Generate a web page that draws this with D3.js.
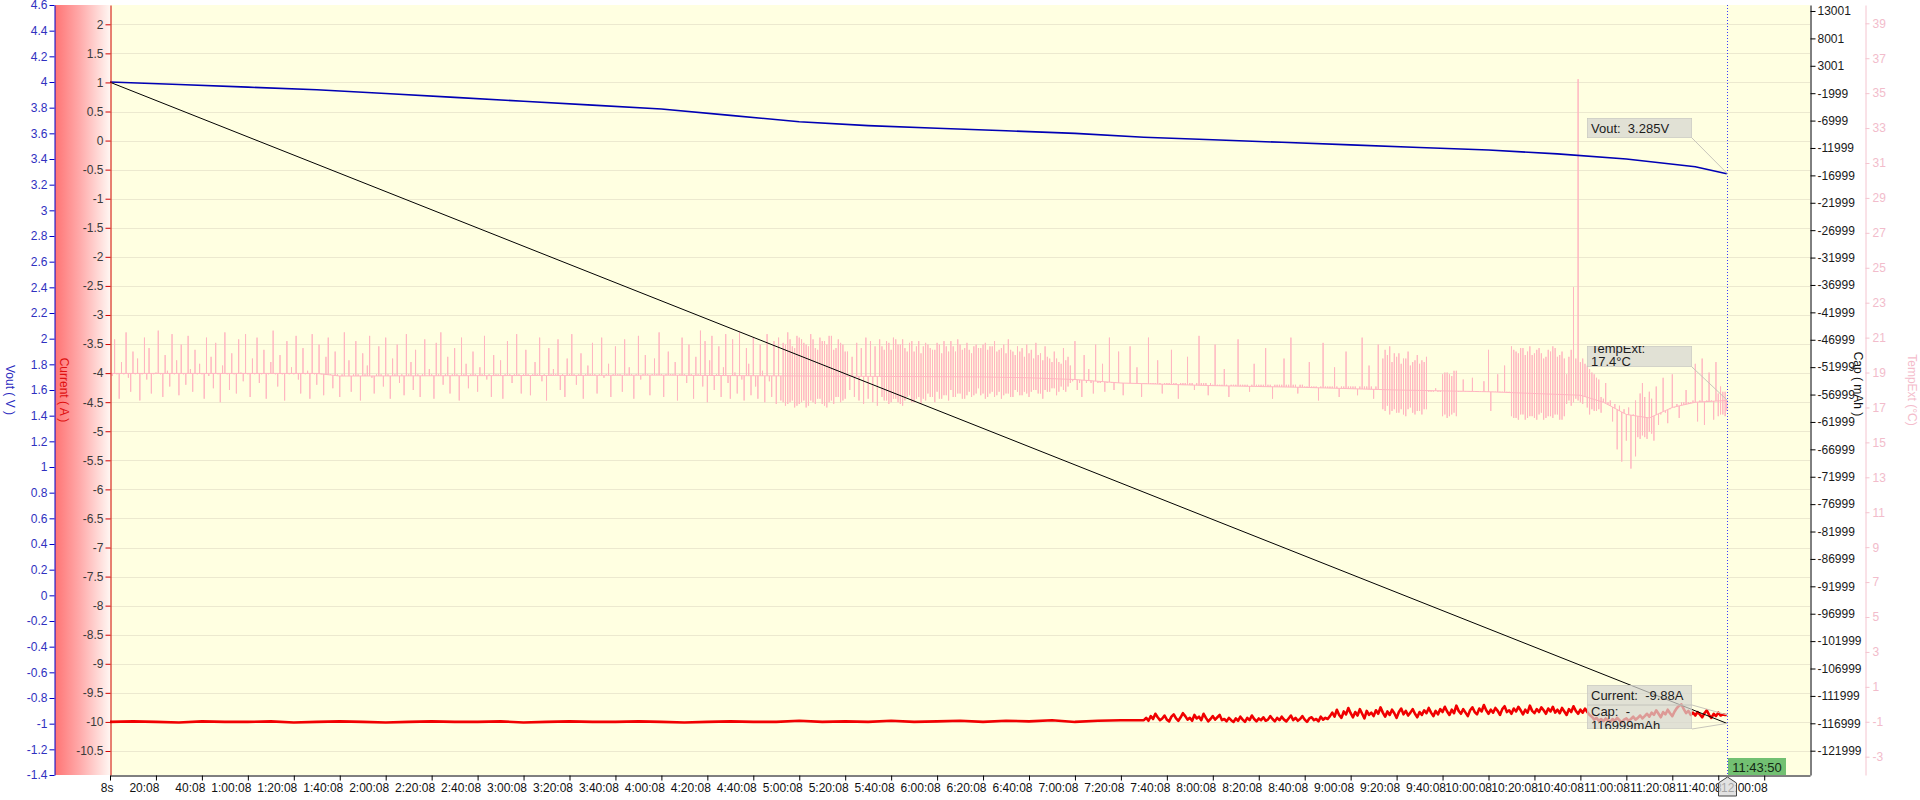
<!DOCTYPE html>
<html><head><meta charset="utf-8">
<script src="https://cdn.jsdelivr.net/npm/d3@7"></script>
<style>
body{margin:0;background:#fff;}
svg{display:block;font-family:Arial,"Liberation Sans",sans-serif;}
</style></head><body>
<div id="chart"></div>
<script>
// time of the last sample, minutes after the 8s start
var lastMin = 703.7;
var cursorLabel = "11:43:50";

// tick values
var voutTicks = [4.6,4.4,4.2,4,3.8,3.6,3.4,3.2,3,2.8,2.6,2.4,2.2,2,1.8,1.6,1.4,1.2,1,0.8,0.6,0.4,0.2,0,-0.2,-0.4,-0.6,-0.8,-1,-1.2,-1.4];
var currentTicks = [2,1.5,1,0.5,0,-0.5,-1,-1.5,-2,-2.5,-3,-3.5,-4,-4.5,-5,-5.5,-6,-6.5,-7,-7.5,-8,-8.5,-9,-9.5,-10,-10.5];
var capTicks = [13001,8001,3001,-1999,-6999,-11999,-16999,-21999,-26999,-31999,-36999,-41999,-46999,-51999,-56999,-61999,-66999,-71999,-76999,-81999,-86999,-91999,-96999,-101999,-106999,-111999,-116999,-121999];
var tempTicks = [39,37,35,33,31,29,27,25,23,21,19,17,15,13,11,9,7,5,3,1,-1,-3];
var timeTicks = ["8s","20:08","40:08","1:00:08","1:20:08","1:40:08","2:00:08","2:20:08","2:40:08","3:00:08","3:20:08","3:40:08","4:00:08","4:20:08","4:40:08","5:00:08","5:20:08","5:40:08","6:00:08","6:20:08","6:40:08","7:00:08","7:20:08","7:40:08","8:00:08","8:20:08","8:40:08","9:00:08","9:20:08","9:40:08","10:00:08","10:20:08","10:40:08","11:00:08","11:20:08","11:40:08","12:00:08"];

// Vout (V)
var voutMin = [0,30,60,90,120,150,180,210,240,270,300,330,360,390,420,450,480,510,540,570,600,630,660,690,703.7];
var voutVal = [4.0,3.98,3.96,3.94,3.91,3.88,3.85,3.82,3.79,3.74,3.69,3.66,3.64,3.62,3.60,3.57,3.55,3.53,3.51,3.49,3.47,3.44,3.40,3.34,3.285];

// Cap (mAh)
var capMin = [0,lastMin];
var capVal = [1,-116999];

// Current (A): every 10 min up to 440, then every minute from 450
var currentEarly = [-10.0,-9.99,-10.0,-10.01,-9.99,-10.0,-10.0,-9.99,-10.01,-10.0,-9.99,-10.0,-10.01,-10.0,-9.99,-10.0,-10.0,-9.99,-10.01,-10.0,-9.99,-10.0,-10.0,-9.99,-10.0,-10.01,-10.0,-9.99,-10.0,-10.0,-9.98,-10.0,-9.99,-10.0,-9.98,-10.0,-9.99,-9.98,-10.0,-9.98,-9.99,-9.97,-10.0,-9.98,-9.97];
var currentLate = [
  -9.97,-9.93,-9.98,-9.90,-9.95,-9.86,-9.92,-9.97,-9.94,-9.89,-9.96,-9.99,-9.91,-9.87,-9.94,-9.98,-9.92,-9.85,-9.90,-9.96,
  -9.93,-9.98,-9.88,-9.94,-9.91,-9.97,-9.86,-9.93,-9.99,-9.95,-9.90,-9.96,-9.92,-9.88,-9.97,-9.95,-9.99,-9.93,-9.97,-10.0,
  -9.94,-9.98,-9.91,-9.96,-10.0,-9.93,-9.97,-9.89,-9.95,-9.99,-9.94,-9.97,-9.92,-9.98,-9.96,-9.90,-9.95,-9.99,-9.93,-9.97,
  -9.91,-9.96,-9.99,-9.94,-9.89,-9.97,-9.93,-9.98,-9.95,-9.90,-9.96,-10.0,-9.94,-9.92,-9.97,-9.95,-9.99,-9.91,-9.96,-9.93,
  -9.95,-9.90,-9.84,-9.91,-9.79,-9.88,-9.93,-9.82,-9.87,-9.76,-9.85,-9.92,-9.83,-9.89,-9.78,-9.86,-9.94,-9.81,-9.88,-9.84,
  -9.90,-9.80,-9.86,-9.75,-9.84,-9.91,-9.82,-9.88,-9.79,-9.85,-9.93,-9.83,-9.77,-9.87,-9.81,-9.89,-9.84,-9.78,-9.86,-9.92,
  -9.83,-9.88,-9.80,-9.85,-9.76,-9.84,-9.90,-9.81,-9.87,-9.78,-9.83,-9.74,-9.82,-9.88,-9.79,-9.85,-9.72,-9.81,-9.86,-9.78,
  -9.84,-9.90,-9.80,-9.75,-9.83,-9.87,-9.77,-9.82,-9.71,-9.80,-9.86,-9.79,-9.84,-9.76,-9.81,-9.88,-9.78,-9.73,-9.83,-9.80,
  -9.86,-9.77,-9.82,-9.74,-9.80,-9.87,-9.79,-9.84,-9.72,-9.81,-9.85,-9.78,-9.83,-9.75,-9.80,-9.86,-9.77,-9.82,-9.74,-9.84,
  -9.79,-9.85,-9.76,-9.82,-9.88,-9.78,-9.83,-9.73,-9.81,-9.86,-9.79,-9.84,-9.77,-9.83,-9.88,-9.91,-9.96,-9.93,-9.98,-9.95,
  -9.99,-9.94,-9.97,-10.0,-9.95,-9.98,-9.93,-9.97,-10.01,-9.96,-9.94,-9.98,-9.95,-9.91,-9.96,-9.93,-9.89,-9.94,-9.90,-9.86,
  -9.91,-9.84,-9.88,-9.80,-9.86,-9.92,-9.83,-9.87,-9.79,-9.85,-9.90,-9.82,-9.76,-9.72,-9.70,-9.78,-9.85,-9.81,-9.88,-9.84,
  -9.89,-9.83,-9.87,-9.92,-9.85,-9.80,-9.88,-9.93,-9.86,-9.90,-9.84,-9.89,-9.87,-9.88];
var currentEnd = -9.88;

// TempExt (°C): slow baseline
var tempBaseMin = [0,90,100,240,300,380,400,420,440,480,520,560,600,640,650,660,670,680,690,703.7];
var tempBaseVal = [18.95,18.95,18.8,18.85,18.8,18.75,18.7,18.6,18.4,18.25,18.15,18.0,17.9,17.7,17.3,16.6,16.4,17.0,17.3,17.4];
// TempExt spike tip in each minute (0..704)
var tempSpike = [
  18.9,18.8,20.9,18.9,17.5,19.6,18.9,21.3,18.7,17.9,20.2,18.9,19.8,17.4,18.9,21.0,18.6,20.4,17.8,18.9,
  19.0,21.4,18.9,17.6,20.0,19.1,18.2,21.2,18.9,19.7,17.7,20.6,18.9,18.3,21.1,19.2,17.9,20.3,18.9,19.5,
  18.9,17.5,21.0,18.8,19.9,18.1,20.7,18.9,17.3,19.4,21.3,18.9,18.0,20.1,18.9,17.8,20.9,19.0,18.5,21.2,
  18.9,17.6,19.8,18.9,21.0,18.4,18.9,20.3,17.5,18.9,19.6,21.4,18.9,18.2,20.0,18.9,17.4,20.8,18.9,19.3,
  18.9,21.1,18.6,17.8,20.4,18.9,19.1,17.5,21.2,18.9,18.3,20.6,18.9,17.7,19.9,21.0,18.9,18.1,20.2,18.9,
  17.6,18.9,21.3,18.8,19.7,17.9,18.9,20.8,18.9,17.4,20.1,18.9,19.4,21.1,18.7,17.8,18.9,20.5,18.9,18.2,
  21.0,18.9,17.5,19.8,18.9,20.6,18.4,18.9,17.7,21.2,18.9,19.6,18.0,20.3,18.9,17.6,18.9,20.9,18.8,19.2,
  18.9,17.5,20.7,18.9,21.3,18.3,18.9,19.9,17.8,18.9,20.4,18.9,17.4,21.0,18.9,19.5,18.1,18.9,20.2,18.9,
  17.9,19.3,18.9,21.1,18.6,18.9,17.6,20.0,18.9,18.9,19.7,17.5,18.9,20.8,18.9,18.4,18.9,21.2,18.9,17.8,
  18.9,20.3,18.9,17.7,18.9,19.6,18.9,21.0,18.5,18.9,17.4,20.4,18.9,19.2,18.9,20.9,18.0,18.9,17.6,19.8,
  18.9,21.2,18.9,18.3,18.9,20.1,17.5,18.9,19.4,18.9,20.7,18.9,17.8,18.9,21.0,18.7,18.9,19.5,17.6,18.9,
  20.5,18.9,18.9,17.9,20.9,18.9,19.3,18.9,17.5,18.9,21.1,18.6,18.9,20.0,18.9,17.7,18.9,19.8,18.9,21.3,
  18.9,17.6,18.9,20.2,18.9,18.9,19.6,17.4,18.9,21.0,18.9,18.4,20.6,18.9,17.5,19.9,18.9,21.4,18.2,20.8,
  17.3,19.7,21.1,18.0,18.9,20.5,17.6,19.3,21.2,18.4,17.5,20.9,19.0,17.8,21.3,18.6,17.4,20.4,19.5,17.7,
  21.0,18.2,17.5,20.6,19.1,17.3,21.2,18.5,17.6,20.8,17.2,21.0,17.4,20.7,17.1,21.3,17.3,20.5,17.0,21.1,
  17.2,20.9,17.4,20.6,17.1,21.2,17.3,20.4,17.5,21.0,17.2,20.8,17.0,21.1,17.4,20.3,17.6,20.9,17.3,20.6,
  17.5,20.2,18.0,19.9,17.6,20.7,17.4,20.4,17.2,21.0,17.5,20.8,17.3,20.5,17.1,20.9,17.6,20.3,17.4,20.7,
  17.3,21.0,17.5,20.6,17.2,20.9,17.4,20.2,17.7,20.8,17.3,20.5,17.6,20.1,17.5,20.7,17.8,20.4,17.6,20.3,
  17.9,20.6,17.5,20.8,17.7,20.2,18.0,20.5,17.6,20.9,17.8,20.3,17.5,20.7,17.9,20.1,17.7,20.6,18.1,20.4,
  17.8,20.7,17.6,20.5,17.9,20.8,17.7,20.3,17.5,20.6,17.8,20.9,17.6,20.2,18.0,20.5,17.7,20.4,17.9,20.6,
  17.6,20.3,18.0,20.7,17.8,20.1,17.5,20.5,17.9,19.8,18.1,20.2,17.7,19.6,18.2,20.4,17.9,19.9,18.4,18.5,
  20.8,18.0,18.4,17.6,20.0,18.4,19.2,18.4,17.8,20.6,18.4,18.4,19.5,17.9,18.4,21.0,18.4,18.0,18.4,20.2,
  18.4,17.7,18.4,18.4,20.5,18.4,18.4,19.3,18.4,17.6,18.4,18.4,21.0,18.4,18.4,18.4,19.7,18.4,17.8,18.4,
  18.4,18.4,20.3,18.4,18.4,17.5,18.4,18.4,18.4,19.9,18.4,18.4,18.0,18.4,21.1,18.4,18.4,18.4,17.7,18.4,
  18.3,20.6,18.3,18.3,18.3,19.2,18.3,17.6,18.3,18.3,18.3,20.9,18.3,18.3,18.3,18.3,17.9,18.3,19.5,18.3,
  18.3,18.3,18.3,20.4,18.3,18.3,17.5,18.3,18.3,18.3,18.3,19.8,18.3,18.3,21.0,18.3,18.3,17.8,18.3,18.3,
  18.2,18.2,19.6,18.2,18.2,18.2,17.4,18.2,20.7,18.2,18.2,18.2,18.2,19.3,18.2,17.6,18.2,18.2,20.2,18.2,
  18.2,18.2,18.2,17.7,18.2,21.0,18.2,18.2,19.4,18.2,17.5,18.2,20.6,18.0,16.9,20.3,17.1,20.5,16.8,20.1,
  16.7,20.1,16.9,19.8,16.5,20.2,17.0,19.6,16.6,20.0,16.8,19.7,16.9,19.9,17.9,17.9,17.9,18.1,17.9,17.9,
  16.5,19.0,16.4,18.9,16.6,19.1,16.5,17.9,17.9,18.6,17.9,17.9,17.9,18.7,17.9,17.9,17.9,17.9,18.5,17.9,
  20.3,16.8,17.9,17.9,18.9,17.9,17.9,19.4,17.9,17.9,20.5,16.4,20.2,16.3,20.4,16.6,20.0,16.4,20.5,16.5,
  20.1,16.3,20.4,16.7,19.8,16.4,20.3,16.5,20.5,16.6,19.9,16.3,20.2,16.5,18.9,17.4,20.3,23.9,17.5,35.8,
  17.3,19.8,17.6,19.4,16.6,19.0,16.8,18.7,16.9,17.6,17.5,18.4,17.3,17.4,16.2,17.2,14.6,17.1,13.9,16.9,
  15.1,17.0,13.5,16.6,14.2,16.4,15.2,18.4,15.3,16.4,17.9,15.5,16.5,18.2,16.0,16.6,18.7,16.7,16.1,16.9,
  18.9,17.0,17.2,16.4,17.3,17.3,18.0,17.3,17.3,17.4,19.5,16.2,17.4,19.8,16.0,17.4,19.0,17.4,16.3,19.6,
  16.5,18.2,16.6,17.9,17.4];
// TempExt dense stretches: first minute, and the opposite extreme reached in each minute
var denseStart = [293,336,378,554,580,610,634,664,700];
var denseVals = [
  [17.3,20.6,17.2,20.9,17.4,20.4,17.1,21.0,17.3,20.7,17.0,20.5,17.4,20.9,17.2,20.3,17.5,20.8,17.1,20.6,17.3,21.1,17.2,20.4,17.6,20.7,17.4,20.2],
  [20.5,17.4,20.8,17.2,20.3,17.5,20.9,17.3,20.6,17.1,20.4,17.6,20.7,17.3,20.2,17.5,20.8,17.2,20.5,17.4,
   20.6,17.6,20.3,17.3,20.7,17.5,20.1,17.7,20.5,17.4,20.8,17.6,20.2,17.8,20.6,17.5,20.4,17.7,20.3,17.6,20.5,17.8],
  [20.4,17.7,20.6,17.5,20.3,17.8,20.5,17.6,20.2,17.9,20.4,17.7,20.1,17.8,20.3,17.6,20.0,17.9,20.2,17.7,
   19.9,17.8,20.1,17.9,19.8,18.0,20.0,17.8,19.7,18.0,19.9,17.9,19.6,18.1,19.8,17.9,19.5,18.0,19.7,18.2,19.4],
  [19.8,16.8,20.0,16.6,19.6,16.9,19.9,16.7,19.5,16.6,19.8,16.9,19.4,16.7,19.7,16.8,19.5,16.6,19.6,16.9],
  [18.9,16.6,19.0,16.5,18.8,16.7,19.1],
  [16.5,20.3,16.4,20.1,16.6,20.4,16.3,20.2,16.5,20.0,16.4,20.3,16.6,20.1,16.3,19.9,16.5,20.2,16.4,20.4,16.6,20.0,16.3,19.8],
  [17.2,19.9,17.1,17.3,19.8,17.4,19.6,17.2,19.5,17.0,19.2,16.9,18.9,16.8,18.6,16.7],
  [17.4,15.3,17.8,15.4,17.6,15.2,15.6,17.5,15.1],
  [17.8,16.6,17.9,16.5,16.8]];

var W = 1920, H = 800;
var pL = 110, pR = 1810, pT = 5, pB = 775;

function minToSec(m){ return 8 + m*60; }

var xScale = d3.scaleLinear().domain([8, 44404]).range([pL, pR]);
var vScale = d3.scaleLinear().domain([-1.4, 4.6]).range([pB, pT]);
var iScale = d3.scaleLinear().domain([-10.913, 2.332]).range([pB, pT]);
var capScale = d3.scaleLinear().domain([-126434, 14096]).range([pB, pT]);
var tScale = d3.scaleLinear().domain([-4.048, 40.048]).range([pB, pT]);
var tempBase = d3.scaleLinear().domain(tempBaseMin).range(tempBaseVal);

var svg = d3.select("#chart").append("svg")
  .attr("width", W).attr("height", H);

var defs = svg.append("defs");
var grad = defs.append("linearGradient").attr("id", "redband")
  .attr("x1", "0%").attr("x2", "100%").attr("y1", "0%").attr("y2", "0%");
grad.append("stop").attr("offset", "0%").attr("stop-color", "#ff7474");
grad.append("stop").attr("offset", "45%").attr("stop-color", "#ffaaaa");
grad.append("stop").attr("offset", "100%").attr("stop-color", "#fff6f2");

defs.append("clipPath").attr("id", "plotclip").append("rect")
  .attr("x", pL).attr("y", pT).attr("width", pR-pL).attr("height", pB-pT);

// red band behind the current axis
svg.append("rect")
  .attr("x", 55).attr("y", pT).attr("width", pL-55).attr("height", pB-pT)
  .attr("fill", "url(#redband)");

// plot background
svg.append("rect")
  .attr("x", pL).attr("y", pT).attr("width", pR-pL).attr("height", pB-pT)
  .attr("fill", "#ffffe1");

// grid lines on the current ticks
svg.append("g").selectAll("line").data(currentTicks).enter().append("line")
  .attr("x1", pL).attr("x2", pR)
  .attr("y1", function(d){ return Math.round(iScale(d))+0.5; })
  .attr("y2", function(d){ return Math.round(iScale(d))+0.5; })
  .attr("stroke", "#ece9cf").attr("stroke-width", 1);

var g = svg.append("g").attr("clip-path", "url(#plotclip)");
var tx = function(m){ return xScale(minToSec(m)); };

// TempExt: baseline with the excursions of each minute
var second = {};
denseStart.forEach(function(s, k){
  denseVals[k].forEach(function(v, j){ second[s + j] = v; });
});
var tempPts = [];
tempSpike.forEach(function(v, i){
  var m = Math.min(i, lastMin), b = tempBase(m);
  tempPts.push([m, b], [m, v]);
  if (second[i] !== undefined) tempPts.push([m, second[i]]);
  tempPts.push([m, b]);
});
g.append("path").datum(tempPts)
  .attr("d", d3.line().x(function(d){ return tx(d[0]); }).y(function(d){ return tScale(d[1]); }))
  .attr("fill", "none").attr("stroke", "#ffb6c1").attr("stroke-width", 1);

// Current
var curPts = currentEarly.map(function(v, i){ return [i*10, v]; })
  .concat(currentLate.map(function(v, i){ return [450 + i, v]; }))
  .concat([[lastMin, currentEnd]]);
g.append("path").datum(curPts)
  .attr("d", d3.line().x(function(d){ return tx(d[0]); }).y(function(d){ return iScale(d[1]); }))
  .attr("fill", "none").attr("stroke", "#f00000").attr("stroke-width", 2.6)
  .attr("stroke-linejoin", "round");

// Vout
var voutPts = voutMin.map(function(m, i){ return [m, voutVal[i]]; });
g.append("path").datum(voutPts)
  .attr("d", d3.line().x(function(d){ return tx(d[0]); }).y(function(d){ return vScale(d[1]); }))
  .attr("fill", "none").attr("stroke", "#0000b4").attr("stroke-width", 1.6);

// Cap
var capPts = capMin.map(function(m, i){ return [m, capVal[i]]; });
g.append("path").datum(capPts)
  .attr("d", d3.line().x(function(d){ return tx(d[0]); }).y(function(d){ return capScale(d[1]); }))
  .attr("fill", "none").attr("stroke", "#000").attr("stroke-width", 1);

// axes
function numFmt(d){ return String(+d.toFixed(2)); }

function styleAxis(sel, lineColor, textColor){
  sel.selectAll("path.domain").attr("stroke", lineColor);
  sel.selectAll(".tick line").attr("stroke", lineColor);
  sel.selectAll(".tick text").attr("fill", textColor).style("font-size", "12px")
    .style("font-family", "Arial, 'Liberation Sans', sans-serif");
}

var vAxis = svg.append("g").attr("transform", "translate(54.5,0)")
  .call(d3.axisLeft(vScale).tickValues(voutTicks).tickFormat(numFmt).tickSize(5).tickSizeOuter(0).tickPadding(2));
styleAxis(vAxis, "#0000c8", "#3030c0");

var iAxis = svg.append("g").attr("transform", "translate(110.5,0)")
  .call(d3.axisLeft(iScale).tickValues(currentTicks).tickFormat(numFmt).tickSize(5).tickSizeOuter(0).tickPadding(2));
styleAxis(iAxis, "#d00000", "#3a3a3a");

var capAxis = svg.append("g").attr("transform", "translate(1810.5,0)")
  .call(d3.axisRight(capScale).tickValues(capTicks).tickFormat(function(d){ return String(d); }).tickSize(5).tickSizeOuter(0).tickPadding(2));
styleAxis(capAxis, "#000", "#1a1a1a");

var tAxis = svg.append("g").attr("transform", "translate(1865.5,0)")
  .call(d3.axisRight(tScale).tickValues(tempTicks).tickFormat(function(d){ return String(d); }).tickSize(4).tickSizeOuter(0).tickPadding(3));
styleAxis(tAxis, "#f4c4cf", "#f2bccb");

// time axis
var timeVals = timeTicks.map(function(d, i){ return 8 + i*1200; });
var xAxis = svg.append("g").attr("transform", "translate(0," + (pB+0.5) + ")")
  .call(d3.axisBottom(xScale).tickValues(timeVals)
    .tickFormat(function(d, i){ return timeTicks[i]; }).tickSize(5).tickSizeOuter(0).tickPadding(3));
styleAxis(xAxis, "#000", "#111");
xAxis.selectAll(".tick text").attr("text-anchor", "end").attr("x", 3);

// axis titles
function vTitle(x, y, txt, color){
  svg.append("text").attr("transform", "translate(" + x + "," + y + ") rotate(90)")
    .attr("text-anchor", "middle").attr("dominant-baseline", "central")
    .attr("fill", color).style("font-size", "12px").text(txt);
}
vTitle(10, 390, "Vout ( V )", "#2a2ac0");
vTitle(64, 390, "Current ( A )", "#e01010");
vTitle(1858, 384, "Cap ( mAh )", "#111");
vTitle(1912, 390, "TempExt (°C)", "#f4bccb");

// cursor
var cx = Math.round(tx(lastMin)) + 0.5;
svg.append("line").attr("x1", cx).attr("x2", cx).attr("y1", pT).attr("y2", pB)
  .attr("stroke", "#3a3aff").attr("stroke-width", 1).attr("stroke-dasharray", "1,2");

// value boxes
var boxes = [
  {y: 118, h: 20, lines: ["Vout:  3.285V"], base: [133], ty: vScale(3.285)},
  {y: 346, h: 21, lines: ["TempExt:", "17.4°C"], base: [352.5, 366], ty: tScale(17.4)},
  {y: 685, h: 20, lines: ["Current:  -9.88A"], base: [700], ty: iScale(-9.88)},
  {y: 705, h: 24, lines: ["Cap:  -", "116999mAh"], base: [716, 730], ty: capScale(-116999)}
];
var bx = 1587, bw = 105;
boxes.forEach(function(b, k){
  svg.append("line").attr("x1", bx+bw).attr("y1", b.y+b.h).attr("x2", cx).attr("y2", b.ty)
    .attr("stroke", "#c8c6bc").attr("stroke-width", 1);
  defs.append("clipPath").attr("id", "bclip"+k).append("rect")
    .attr("x", bx).attr("y", b.y).attr("width", bw).attr("height", b.h);
  var bg = svg.append("g").attr("clip-path", "url(#bclip"+k+")");
  bg.append("rect").attr("x", bx).attr("y", b.y).attr("width", bw).attr("height", b.h)
    .attr("fill", "#d6d6d0").attr("fill-opacity", 0.72).attr("stroke", "#c4c4bc");
  b.lines.forEach(function(t, j){
    bg.append("text").attr("x", bx+4).attr("y", b.base[j]).attr("fill", "#1c1c1c")
      .style("font-size", "13px").style("white-space", "pre").text(t);
  });
});

// cursor time badge
svg.append("rect").attr("x", cx+0.5).attr("y", 758).attr("width", 58).attr("height", 17)
  .attr("fill", "#72c072");
svg.append("text").attr("x", cx+29.5).attr("y", 771.5).attr("text-anchor", "middle")
  .attr("fill", "#142814").style("font-size", "13px").text(cursorLabel);

// marker on the time axis
svg.append("path")
  .attr("d", "M" + cx + ",777 L" + (cx+9) + ",783 L" + (cx+9) + ",796 L" + (cx-9) + ",796 L" + (cx-9) + ",783 Z")
  .attr("fill", "#d8d8d8").attr("fill-opacity", 0.75).attr("stroke", "#444").attr("stroke-width", 1);
</script></body></html>
